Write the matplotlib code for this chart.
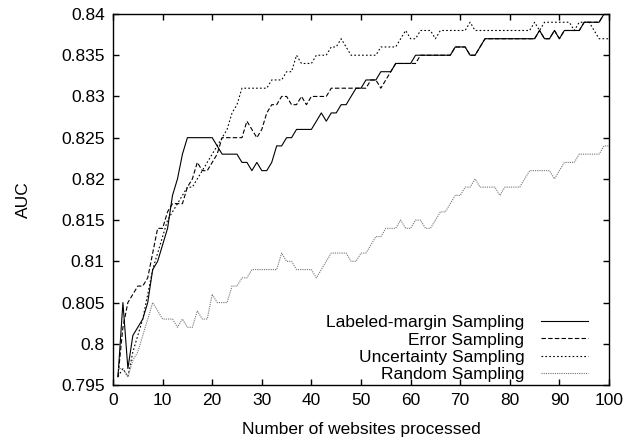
import matplotlib
matplotlib.use('Agg')
import matplotlib.pyplot as plt
from matplotlib.ticker import MultipleLocator, FuncFormatter

plt.rcParams['font.family'] = ['Liberation Sans', 'DejaVu Sans']

websites = list(range(1, 101))

labeled_margin = [
    0.796, 0.805, 0.797, 0.801, 0.802, 0.803, 0.805, 0.809, 0.810, 0.812,
    0.814, 0.818, 0.820, 0.823, 0.825, 0.825, 0.825, 0.825, 0.825, 0.825,
    0.824, 0.823, 0.823, 0.823, 0.823, 0.822, 0.822, 0.821, 0.822, 0.821,
    0.821, 0.822, 0.824, 0.824, 0.825, 0.825, 0.826, 0.826, 0.826, 0.826,
    0.827, 0.828, 0.827, 0.828, 0.828, 0.829, 0.829, 0.830, 0.831, 0.831,
    0.832, 0.832, 0.832, 0.833, 0.833, 0.833, 0.834, 0.834, 0.834, 0.834,
    0.835, 0.835, 0.835, 0.835, 0.835, 0.835, 0.835, 0.835, 0.836, 0.836,
    0.836, 0.835, 0.835, 0.836, 0.837, 0.837, 0.837, 0.837, 0.837, 0.837,
    0.837, 0.837, 0.837, 0.837, 0.837, 0.838, 0.837, 0.837, 0.838, 0.837,
    0.838, 0.838, 0.838, 0.838, 0.839, 0.839, 0.839, 0.839, 0.840, 0.840,
]

error = [
    0.796, 0.802, 0.805, 0.806, 0.807, 0.807, 0.808, 0.811, 0.814, 0.814,
    0.816, 0.817, 0.817, 0.817, 0.819, 0.820, 0.822, 0.821, 0.821, 0.822,
    0.823, 0.825, 0.825, 0.825, 0.825, 0.825, 0.827, 0.826, 0.825, 0.826,
    0.828, 0.829, 0.829, 0.830, 0.830, 0.829, 0.829, 0.830, 0.829, 0.830,
    0.830, 0.830, 0.830, 0.831, 0.831, 0.831, 0.831, 0.831, 0.831, 0.831,
    0.831, 0.832, 0.832, 0.831, 0.832, 0.833, 0.834, 0.834, 0.834, 0.834,
    0.834, 0.835, 0.835, 0.835, 0.835, 0.835, 0.835, 0.835, 0.836, 0.836,
    0.836, 0.835, 0.835, 0.836, 0.837, 0.837, 0.837, 0.837, 0.837, 0.837,
    0.837, 0.837, 0.837, 0.837, 0.837, 0.838, 0.837, 0.837, 0.838, 0.837,
    0.838, 0.838, 0.838, 0.838, 0.839, 0.839, 0.839, 0.839, 0.840, 0.840,
]

uncertainty = [
    0.796, 0.797, 0.796, 0.799, 0.801, 0.803, 0.806, 0.809, 0.811, 0.813,
    0.815, 0.816, 0.817, 0.818, 0.819, 0.819, 0.820, 0.821, 0.822, 0.823,
    0.824, 0.825, 0.826, 0.828, 0.829, 0.831, 0.831, 0.831, 0.831, 0.831,
    0.831, 0.832, 0.832, 0.832, 0.833, 0.833, 0.835, 0.834, 0.834, 0.834,
    0.835, 0.835, 0.835, 0.836, 0.836, 0.837, 0.836, 0.835, 0.835, 0.835,
    0.835, 0.835, 0.835, 0.836, 0.836, 0.836, 0.836, 0.837, 0.838, 0.837,
    0.837, 0.838, 0.838, 0.838, 0.837, 0.838, 0.838, 0.838, 0.838, 0.838,
    0.838, 0.839, 0.838, 0.838, 0.838, 0.838, 0.838, 0.838, 0.838, 0.838,
    0.838, 0.838, 0.838, 0.838, 0.839, 0.838, 0.839, 0.839, 0.839, 0.839,
    0.839, 0.839, 0.838, 0.839, 0.839, 0.839, 0.838, 0.837, 0.837, 0.837,
]

random_s = [
    0.797, 0.797, 0.796, 0.798, 0.799, 0.801, 0.803, 0.805, 0.804, 0.803,
    0.803, 0.803, 0.802, 0.803, 0.802, 0.802, 0.804, 0.803, 0.803, 0.806,
    0.805, 0.805, 0.805, 0.807, 0.807, 0.808, 0.808, 0.809, 0.809, 0.809,
    0.809, 0.809, 0.809, 0.811, 0.810, 0.810, 0.809, 0.809, 0.809, 0.809,
    0.808, 0.809, 0.810, 0.811, 0.811, 0.811, 0.811, 0.810, 0.810, 0.811,
    0.811, 0.812, 0.813, 0.813, 0.814, 0.814, 0.814, 0.815, 0.814, 0.814,
    0.815, 0.815, 0.814, 0.814, 0.815, 0.816, 0.816, 0.817, 0.818, 0.818,
    0.819, 0.819, 0.820, 0.819, 0.819, 0.819, 0.819, 0.818, 0.819, 0.819,
    0.819, 0.819, 0.820, 0.821, 0.821, 0.821, 0.821, 0.821, 0.820, 0.821,
    0.822, 0.822, 0.822, 0.823, 0.823, 0.823, 0.823, 0.823, 0.824, 0.824,
]

labels = ['Labeled-margin Sampling', 'Error Sampling',
          'Uncertainty Sampling', 'Random Sampling']

fs = 12.5

fig = plt.figure(figsize=(6.37, 4.41), dpi=100)
ax = fig.add_axes([113 / 637, 1 - 385 / 441, 496 / 637, 371 / 441])

ax.plot(websites, labeled_margin, color='black', lw=0.8, ls='-', label=labels[0])
ax.plot(websites, error, color='black', lw=0.8, ls=(0, (4, 2)), label=labels[1])
ax.plot(websites, uncertainty, color='black', lw=0.8, ls=(0, (1.5, 2)), label=labels[2])
ax.plot(websites, random_s, color='0.45', lw=0.8, ls=(0, (1, 1)), label=labels[3])

ax.set_xlim(0, 100)
ax.set_ylim(0.795, 0.84)
ax.xaxis.set_major_locator(MultipleLocator(10))
ax.yaxis.set_major_locator(MultipleLocator(0.005))
ax.yaxis.set_major_formatter(FuncFormatter(lambda v, p: '%g' % round(v, 3)))
ax.tick_params(direction='in', length=4.5, width=1, top=True, right=True,
               labelsize=fs, pad=6)
for s in ax.spines.values():
    s.set_linewidth(1)

ax.set_xlabel('Number of websites processed', fontsize=fs, labelpad=10)
ax.set_ylabel('AUC', fontsize=fs, labelpad=22)

ax.legend(loc='lower right', bbox_to_anchor=(0.957, 0.008), frameon=False,
          markerfirst=False, fontsize=fs, handlelength=2.7, handletextpad=0.95,
          labelspacing=0.12, borderpad=0, borderaxespad=0)

fig.savefig('out.png', dpi=100)
